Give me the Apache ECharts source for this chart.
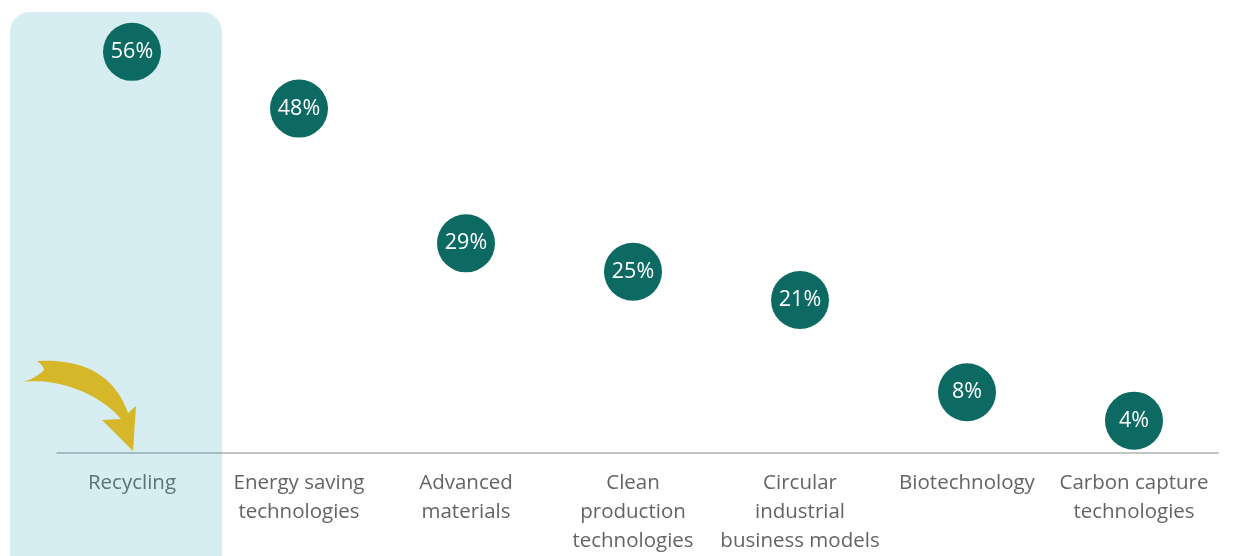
<!DOCTYPE html>
<html>
<head>
<meta charset="utf-8">
<style>
  html, body { margin: 0; padding: 0; background: #ffffff; }
  #chart { width: 1248px; height: 556px; }
</style>
<script src="https://cdn.jsdelivr.net/npm/echarts@6/dist/echarts.min.js"></script>
</head>
<body>
<div id="chart"></div>
<script>
// Technology areas and the share of respondents naming each one
const categories = [
  'Recycling',
  'Energy saving\ntechnologies',
  'Advanced\nmaterials',
  'Clean\nproduction\ntechnologies',
  'Circular\nindustrial\nbusiness models',
  'Biotechnology',
  'Carbon capture\ntechnologies'
];
const shares = [56, 48, 29, 25, 21, 8, 4];
const highlighted = 'Recycling';

const chart = echarts.init(document.getElementById('chart'));

const font = '"Open Sans", Lato, "Noto Sans", sans-serif';

// Sample a cubic Bezier into points for a polygon outline
function cubic(p0, p1, p2, p3, n) {
  const pts = [];
  for (let i = 0; i <= n; i++) {
    const t = i / n, u = 1 - t;
    pts.push([
      u * u * u * p0[0] + 3 * u * u * t * p1[0] + 3 * u * t * t * p2[0] + t * t * t * p3[0],
      u * u * u * p0[1] + 3 * u * u * t * p1[1] + 3 * u * t * t * p2[1] + t * t * t * p3[1]
    ]);
  }
  return pts;
}

// Curved pointer arrow: lower edge, head, upper edge, fishtail tail
const arrowPoints = [].concat(
  cubic([16, 383], [50, 376], [96, 390], [121, 419], 24),
  [[102, 420], [133, 451], [136, 406], [128, 413]],
  cubic([128, 413], [117, 382], [92, 358], [37, 361], 24),
  cubic([37, 361], [41, 364], [44, 367], [44, 370], 4),
  cubic([44, 370], [36, 378], [26, 382], [16, 383], 8)
);

chart.setOption({
  backgroundColor: '#ffffff',
  animation: false,
  grid: [
    { left: 48.5, right: 30.5, top: 23.5, bottom: 100.5 },
    { left: 57, right: 30, top: 23.5, bottom: 103 }
  ],
  xAxis: [
    {
      type: 'category',
      gridIndex: 0,
      data: categories,
      boundaryGap: true,
      axisLine: { show: false },
      axisTick: { show: false },
      axisLabel: {
        interval: 0,
        margin: 20,
        color: '#646464',
        fontSize: 20.5,
        lineHeight: 29,
        fontFamily: font,
        formatter: v => (v === highlighted ? '{hl|' + v + '}' : v),
        rich: {
          hl: { color: '#5d7277', fontSize: 20.5, lineHeight: 29, fontFamily: font }
        }
      }
    },
    {
      // baseline rule under the bubbles
      type: 'value',
      gridIndex: 1,
      min: 0,
      max: 1,
      axisLine: { show: true, lineStyle: { color: '#c4c4c4', width: 2 } },
      axisTick: { show: false },
      axisLabel: { show: false },
      splitLine: { show: false }
    }
  ],
  yAxis: [
    { type: 'value', gridIndex: 0, min: 0, max: 60, show: false },
    { type: 'value', gridIndex: 1, min: 0, max: 60, show: false }
  ],
  graphic: [
    {
      // highlight panel behind the first category
      type: 'rect',
      z: -10,
      silent: true,
      shape: { x: 10, y: 12, width: 212, height: 570, r: 20 },
      style: { fill: '#d6eef2' }
    },
    {
      // baseline segment tinted inside the panel
      type: 'rect',
      z: 2,
      silent: true,
      shape: { x: 57, y: 452, width: 165, height: 2 },
      style: { fill: '#a3bcc1' }
    },
    {
      type: 'polygon',
      z: 3,
      silent: true,
      shape: { points: arrowPoints },
      style: { fill: '#d6b72a' }
    }
  ],
  series: [
    {
      type: 'scatter',
      xAxisIndex: 0,
      yAxisIndex: 0,
      z: 4,
      data: shares,
      symbol: 'circle',
      symbolSize: 58,
      itemStyle: { color: '#0c6a63', opacity: 1 },
      label: {
        show: true,
        position: 'inside',
        formatter: p => p.value + '%',
        color: '#ffffff',
        fontSize: 21.5,
        fontFamily: font
      }
    }
  ]
});
</script>
</body>
</html>
